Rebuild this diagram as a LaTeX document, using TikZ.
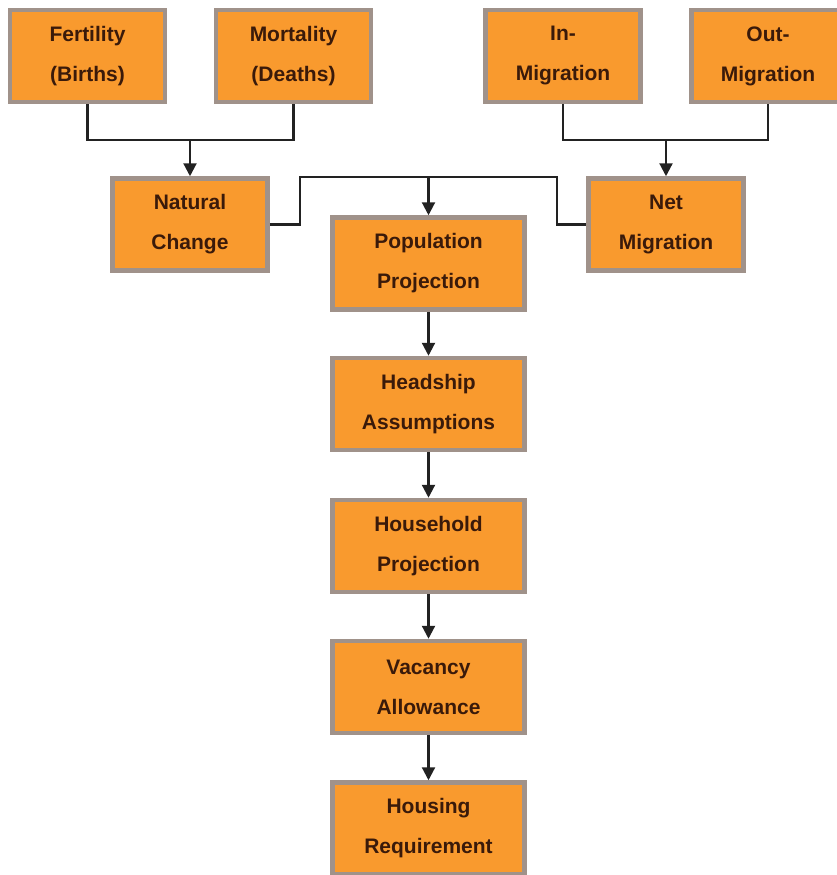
\documentclass[tikz,border=0pt]{standalone}
\usepackage{fontspec}
\setmainfont{Liberation Sans}
\usetikzlibrary{arrows.meta}
\definecolor{boxfill}{HTML}{F99A2E}
\definecolor{boxline}{HTML}{A0928A}
\definecolor{txt}{HTML}{3A1A0A}
\definecolor{wire}{HTML}{222222}
\tikzset{
  boxtext/.style={inner sep=0pt, align=center,
    font=\fontsize{21}{40}\selectfont\bfseries, text=txt},
  box/.style={boxtext, draw=boxline, line width=4.5pt, fill=boxfill,
    minimum width=155pt, minimum height=92pt},
  wirestyle/.style={draw=wire, line width=2.2pt},
  arr/.style={wirestyle, -{Triangle[length=13pt,width=13pt]}}
}
\begin{document}
\begin{tikzpicture}[x=1pt,y=-1pt]
\useasboundingbox (0,0) rectangle (837,875);
\node[box] (fert) at (87.5,56) {Fertility\\(Births)};
\node[box] (mort) at (293.5,56) {Mortality\\(Deaths)};
\node[box] (inm) at (563,56) {In-\\Migration};
\node[box, minimum width=190pt] (outm) at (786.5,56) {};
\node[boxtext] (outmt) at (768,56) {Out-\\Migration};
\node[box] (nat) at (190,224.5) {Natural\\Change};
\node[box] (net) at (666,224.5) {Net\\Migration};
\node[box, minimum width=192pt] (pop) at (428.5,263.5) {Population\\Projection};
\node[box, minimum width=192pt] (head) at (428.5,404) {Headship\\Assumptions};
\node[box, minimum width=192pt] (hh) at (428.5,546) {Household\\Projection};
\node[box, minimum width=192pt] (vac) at (428.5,687) {Vacancy\\Allowance};
\node[box, minimum width=192pt] (hous) at (428.5,828.5) {Housing\\Requirement};
\coordinate (outb) at (outmt |- outm.south);
\coordinate (j1) at (190,140);
\coordinate (j2) at (666,140);
\coordinate (j3) at (428.5,177);
\draw[wirestyle] (fert.south) |- (j1) -| (mort.south);
\draw[arr] (j1) -- (nat.north);
\draw[wirestyle] (inm.south) |- (j2) -| (outb);
\draw[arr] (j2) -- (net.north);
\draw[wirestyle] (nat.east) -- (300,224.5) |- (j3) -| (557,224.5) -- (net.west);
\draw[arr] (j3) -- (pop.north);
\draw[arr] (pop.south) -- (head.north);
\draw[arr] (head.south) -- (hh.north);
\draw[arr] (hh.south) -- (vac.north);
\draw[arr] (vac.south) -- (hous.north);
\end{tikzpicture}
\end{document}
